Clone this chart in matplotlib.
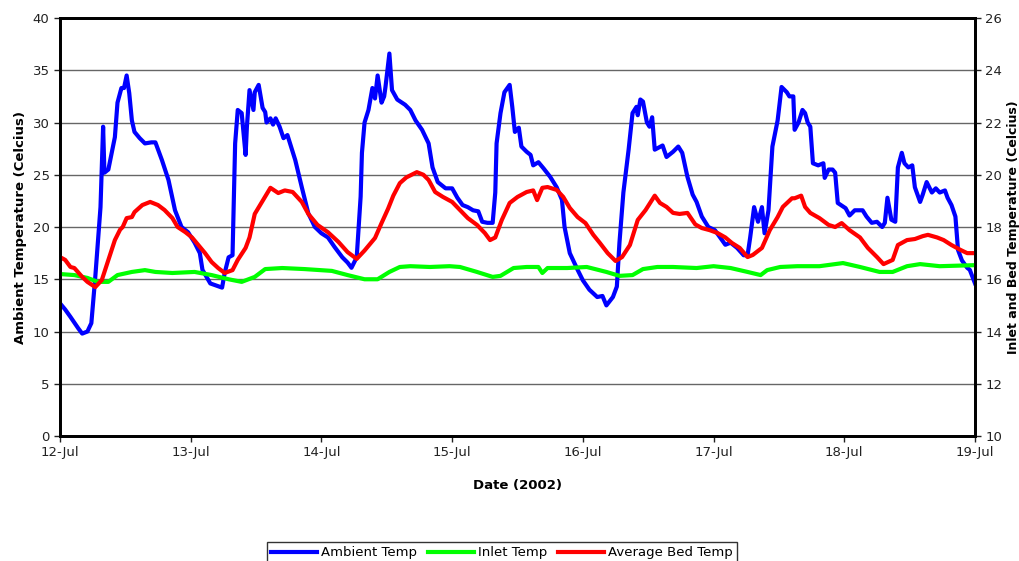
import matplotlib.pyplot as plt

plt.rcParams['font.family'] = ['DejaVu Sans']

# time in July days (2002), temperatures in Celcius
amb_t = [12.00, 12.04, 12.08, 12.14, 12.17, 12.21, 12.24, 12.27, 12.31, 12.33, 12.34, 12.37,
         12.42, 12.44, 12.47, 12.49, 12.51, 12.53, 12.55, 12.57, 12.61, 12.65, 12.70, 12.73,
         12.78, 12.83, 12.88, 12.93, 12.98, 13.03, 13.07, 13.09, 13.15, 13.24, 13.26, 13.29,
         13.32, 13.34, 13.36, 13.39, 13.42, 13.43, 13.45, 13.48, 13.49, 13.52, 13.55, 13.57,
         13.58, 13.61, 13.63, 13.65, 13.68, 13.71, 13.74, 13.80, 13.85, 13.90, 13.95, 14.00,
         14.05, 14.10, 14.16, 14.20, 14.23, 14.27, 14.28, 14.30, 14.31, 14.33, 14.36, 14.39,
         14.41, 14.43, 14.46, 14.48, 14.49, 14.52, 14.54, 14.58, 14.64, 14.68, 14.72, 14.77,
         14.82, 14.85, 14.89, 14.95, 15.00, 15.04, 15.08, 15.12, 15.16, 15.20, 15.23, 15.27,
         15.31, 15.33, 15.34, 15.37, 15.40, 15.44, 15.46, 15.48, 15.51, 15.53, 15.57, 15.60,
         15.62, 15.66, 15.70, 15.75, 15.80, 15.84, 15.86, 15.90, 15.96, 16.00, 16.05, 16.11,
         16.15, 16.18, 16.23, 16.26, 16.28, 16.31, 16.35, 16.38, 16.41, 16.42, 16.44, 16.46,
         16.49, 16.51, 16.53, 16.55, 16.61, 16.64, 16.69, 16.73, 16.76, 16.80, 16.84, 16.87,
         16.91, 16.96, 17.01, 17.05, 17.09, 17.13, 17.18, 17.23, 17.26, 17.28, 17.31, 17.34,
         17.37, 17.39, 17.42, 17.45, 17.49, 17.52, 17.56, 17.58, 17.61, 17.62, 17.65, 17.68,
         17.70, 17.72, 17.74, 17.76, 17.80, 17.84, 17.85, 17.88, 17.91, 17.93, 17.95, 18.01,
         18.04, 18.08, 18.14, 18.17, 18.21, 18.25, 18.29, 18.31, 18.33, 18.36, 18.39, 18.41,
         18.44, 18.46, 18.49, 18.52, 18.54, 18.58, 18.60, 18.63, 18.67, 18.70, 18.73, 18.77,
         18.79, 18.82, 18.85, 18.87, 18.90, 18.94, 18.96, 19.00]
amb_temp = [12.7, 12.1, 11.4, 10.3, 9.8, 10.0, 10.8, 15.2, 21.9, 29.6, 25.2, 25.5,
            28.6, 31.9, 33.3, 33.3, 34.5, 32.8, 30.2, 29.1, 28.5, 28.0, 28.1, 28.1,
            26.4, 24.5, 21.6, 20.0, 19.5, 18.5, 17.5, 15.9, 14.6, 14.2, 15.6, 17.1,
            17.3, 28.0, 31.2, 30.9, 26.9, 29.6, 33.1, 31.2, 32.9, 33.6, 31.4, 31.0,
            30.0, 30.4, 29.8, 30.4, 29.6, 28.5, 28.8, 26.4, 23.8, 21.3, 20.0, 19.4,
            19.0, 18.1, 17.1, 16.6, 16.1, 17.1, 19.0, 22.9, 27.1, 30.0, 31.2, 33.3,
            32.3, 34.5, 31.9, 32.5, 33.4, 36.6, 33.1, 32.2, 31.7, 31.2, 30.2, 29.3,
            28.0, 25.7, 24.3, 23.7, 23.7, 22.8, 22.1, 21.9, 21.6, 21.5, 20.5, 20.4,
            20.4, 23.3, 28.0, 30.9, 32.9, 33.6, 31.5, 29.1, 29.5, 27.7, 27.2, 26.9,
            25.9, 26.2, 25.6, 24.8, 23.8, 22.6, 20.0, 17.5, 15.9, 14.9, 14.0, 13.3,
            13.4, 12.5, 13.3, 14.3, 18.5, 23.3, 27.4, 30.9, 31.5, 30.7, 32.2, 32.0,
            30.0, 29.6, 30.5, 27.4, 27.8, 26.7, 27.2, 27.7, 27.1, 24.8, 23.1, 22.4,
            21.0, 20.0, 19.7, 19.0, 18.3, 18.5, 18.0, 17.3, 17.3, 19.0, 21.9, 20.5,
            21.9, 19.4, 21.6, 27.7, 30.2, 33.4, 32.9, 32.5, 32.5, 29.3, 30.0, 31.2,
            30.9, 30.0, 29.6, 26.1, 25.9, 26.1, 24.7, 25.5, 25.5, 25.2, 22.3, 21.8,
            21.1, 21.6, 21.6, 21.0, 20.4, 20.5, 20.0, 20.4, 22.8, 20.7, 20.5, 25.7,
            27.1, 26.1, 25.7, 25.9, 23.8, 22.4, 23.1, 24.3, 23.3, 23.7, 23.3, 23.5,
            22.8, 22.1, 21.0, 17.8, 16.8, 16.1, 15.9, 14.6]

inlet_t = [12.00, 12.11, 12.21, 12.29, 12.37, 12.44, 12.55, 12.65, 12.73, 12.86, 13.03, 13.16,
           13.29, 13.39, 13.49, 13.57, 13.70, 13.87, 14.08, 14.20, 14.33, 14.43, 14.52, 14.60,
           14.68, 14.83, 14.98, 15.06, 15.19, 15.31, 15.37, 15.47, 15.57, 15.66, 15.69, 15.73,
           15.88, 16.03, 16.18, 16.28, 16.38, 16.46, 16.57, 16.69, 16.87, 17.00, 17.13, 17.26,
           17.36, 17.41, 17.51, 17.64, 17.81, 17.99, 18.12, 18.27, 18.37, 18.48, 18.58, 18.73,
           19.00]
inlet_temp = [16.20, 16.16, 16.05, 15.90, 15.90, 16.16, 16.28, 16.35, 16.28, 16.24, 16.28, 16.16,
              16.00, 15.90, 16.09, 16.39, 16.43, 16.39, 16.32, 16.16, 16.00, 16.00, 16.28, 16.47,
              16.50, 16.47, 16.50, 16.47, 16.28, 16.09, 16.13, 16.43, 16.47, 16.47, 16.24, 16.43,
              16.43, 16.47, 16.28, 16.13, 16.16, 16.39, 16.47, 16.47, 16.43, 16.50, 16.43, 16.28,
              16.16, 16.35, 16.47, 16.50, 16.50, 16.62, 16.47, 16.28, 16.28, 16.50, 16.58, 16.50,
              16.54]

bed_t = [12.00, 12.04, 12.08, 12.11, 12.17, 12.21, 12.27, 12.32, 12.37, 12.42, 12.46, 12.48,
         12.51, 12.55, 12.57, 12.63, 12.69, 12.75, 12.80, 12.86, 12.90, 12.96, 13.01, 13.06,
         13.11, 13.16, 13.21, 13.26, 13.32, 13.36, 13.42, 13.45, 13.49, 13.55, 13.61, 13.67,
         13.72, 13.78, 13.85, 13.90, 13.97, 14.05, 14.13, 14.20, 14.27, 14.33, 14.41, 14.46,
         14.51, 14.55, 14.60, 14.65, 14.73, 14.78, 14.82, 14.87, 14.93, 15.00, 15.06, 15.12,
         15.19, 15.25, 15.29, 15.33, 15.38, 15.44, 15.50, 15.57, 15.62, 15.65, 15.69, 15.73,
         15.80, 15.85, 15.90, 15.96, 16.02, 16.08, 16.13, 16.19, 16.25, 16.30, 16.36, 16.42,
         16.48, 16.52, 16.55, 16.59, 16.64, 16.69, 16.74, 16.80, 16.86, 16.91, 16.97, 17.03,
         17.09, 17.14, 17.20, 17.26, 17.30, 17.37, 17.43, 17.49, 17.53, 17.60, 17.62, 17.67,
         17.70, 17.74, 17.81, 17.88, 17.93, 17.98, 18.04, 18.12, 18.18, 18.25, 18.30, 18.37,
         18.41, 18.48, 18.54, 18.60, 18.64, 18.71, 18.76, 18.82, 18.89, 18.94, 19.00]
bed_temp = [16.85, 16.74, 16.47, 16.43, 16.09, 15.90, 15.70, 15.97, 16.74, 17.50, 17.90, 18.00,
            18.34, 18.38, 18.57, 18.84, 18.96, 18.84, 18.65, 18.34, 18.00, 17.80, 17.60, 17.30,
            17.00, 16.66, 16.43, 16.24, 16.35, 16.74, 17.20, 17.60, 18.50, 19.00, 19.50, 19.30,
            19.40, 19.34, 18.96, 18.50, 18.08, 17.80, 17.43, 17.04, 16.78, 17.10, 17.58, 18.15,
            18.70, 19.20, 19.68, 19.90, 20.10, 20.00, 19.80, 19.34, 19.15, 18.96, 18.65, 18.34,
            18.08, 17.77, 17.50, 17.60, 18.27, 18.92, 19.15, 19.34, 19.40, 19.03, 19.50, 19.53,
            19.42, 19.15, 18.73, 18.38, 18.15, 17.70, 17.39, 17.00, 16.70, 16.85, 17.31, 18.27,
            18.65, 18.96, 19.20, 18.92, 18.77, 18.54, 18.50, 18.54, 18.10, 17.96, 17.88, 17.77,
            17.60, 17.39, 17.20, 16.85, 16.93, 17.20, 17.88, 18.38, 18.77, 19.10, 19.10, 19.20,
            18.77, 18.54, 18.34, 18.08, 18.00, 18.15, 17.88, 17.60, 17.20, 16.85, 16.58, 16.74,
            17.31, 17.50, 17.54, 17.65, 17.70, 17.60, 17.50, 17.31, 17.12, 17.00, 17.00]

days = [12, 13, 14, 15, 16, 17, 18, 19]
day_labels = [f'{d}-Jul' for d in days]

fig = plt.figure(figsize=(10.2, 5.61), dpi=100)
ax = fig.add_axes([0.0588, 0.2228, 0.8971, 0.7451])
ax2 = ax.twinx()

l1, = ax.plot(amb_t, amb_temp, color='#0000ff', lw=3, label='Ambient Temp')
l2, = ax2.plot(inlet_t, inlet_temp, color='#00ff00', lw=3, label='Inlet Temp')
l3, = ax2.plot(bed_t, bed_temp, color='#ff0000', lw=3, label='Average Bed Temp')

ax.set_xlim(12, 19)
ax.set_ylim(0, 40)
ax2.set_ylim(10, 26)
ax.set_yticks(range(0, 41, 5))
ax2.set_yticks(range(10, 27, 2))
ax.set_xticks(days)
ax.set_xticklabels(day_labels)

ax.yaxis.grid(True, color='black', lw=1, alpha=0.6)
ax.set_axisbelow(True)

for a in (ax, ax2):
    for s in a.spines.values():
        s.set_linewidth(2)
    a.tick_params(labelsize=9.5, width=1, length=4, direction='out', colors='#222222')

ax.set_ylabel('Ambient Temperature (Celcius)', fontsize=9.5, fontweight='bold')
ax2.set_ylabel('Inlet and Bed Temperature (Celcius)', fontsize=9, fontweight='bold', labelpad=3)
ax.set_xlabel('Date (2002)', fontsize=9.5, fontweight='bold', labelpad=14)

leg = fig.legend(handles=[l1, l2, l3], loc='upper center', bbox_to_anchor=(0.492, 0.045),
                 ncol=3, fontsize=9.5, frameon=True, fancybox=False, edgecolor='black',
                 handlelength=3.5, handletextpad=0.3, columnspacing=0.8, borderpad=0.3)
leg.get_frame().set_linewidth(1)

fig.savefig('out.png', dpi=100)
